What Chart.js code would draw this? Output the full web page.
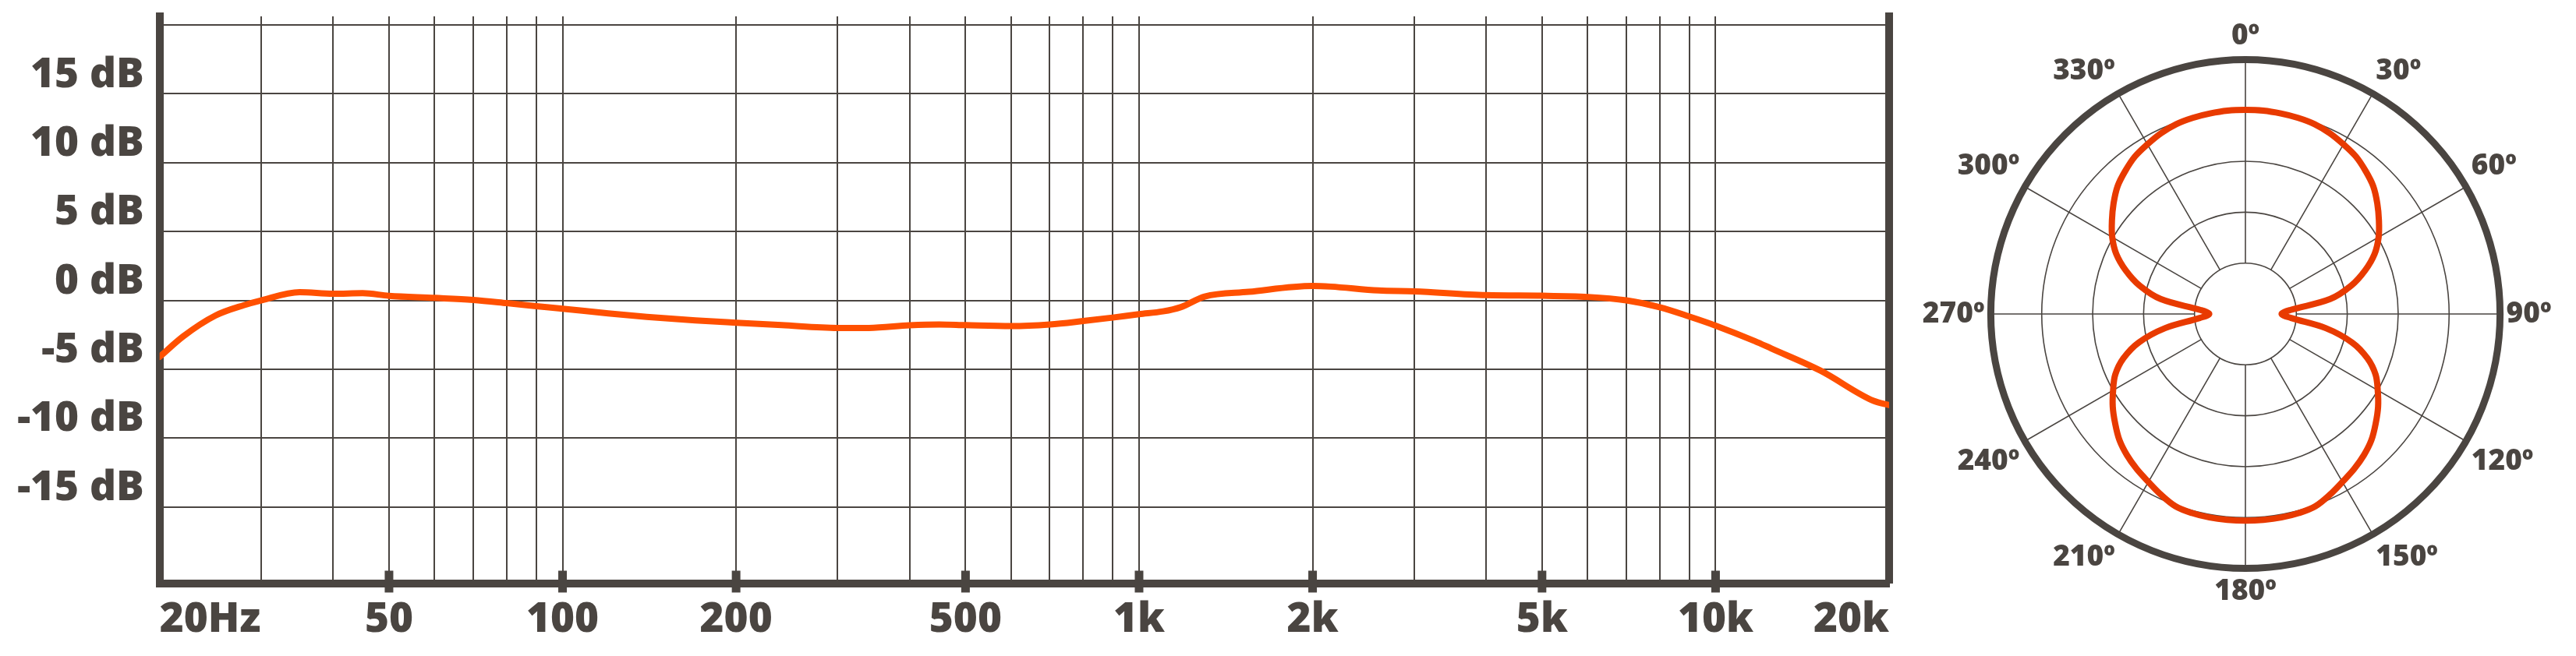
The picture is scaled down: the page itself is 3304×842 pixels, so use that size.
<!DOCTYPE html>
<html>
<head>
<meta charset="utf-8">
<script src="https://cdn.jsdelivr.net/npm/chart.js@4.4.1/dist/chart.umd.min.js"></script>
<style>
  html, body { margin: 0; padding: 0; background: #fff; }
  body { width: 3304px; height: 842px; overflow: hidden; position: relative; }
  #freq-wrap { position: absolute; left: 0; top: 0; width: 2440px; height: 842px; }
  #polar-wrap { position: absolute; left: 2380px; top: 24px; width: 1000px; height: 758px; }
</style>
</head>
<body>
<div id="freq-wrap"><canvas id="freq-chart"></canvas></div>
<div id="polar-wrap"><canvas id="polar-chart"></canvas></div>
<script>
// ── Frequency response ─────────────────────────────────────────────────────
const freqHz = [20, 22, 25, 28, 30, 35, 40, 45, 50, 60, 70, 80, 90, 100, 120, 140, 170, 200, 240, 300,
  340, 400, 450, 500, 600, 700, 800, 900, 1000, 1100, 1180, 1300, 1550, 2000, 2150, 2600, 3000, 4000,
  5000, 6000, 7000, 8000, 9000, 10000, 11700, 12500, 15200, 18800, 20000];
const responseDb = [-4.1, -2.6, -1.1, -0.35, 0.0, 0.6, 0.48, 0.52, 0.33, 0.18, 0.03, -0.2, -0.42, -0.6, -0.95, -1.2, -1.45, -1.62, -1.8, -2.0,
  -2.0, -1.81, -1.75, -1.8, -1.87, -1.75, -1.5, -1.25, -1.0, -0.8, -0.5, 0.28, 0.62, 1.05, 1.0, 0.72, 0.66, 0.38,
  0.34, 0.25, 0.0, -0.5, -1.17, -1.83, -2.96, -3.5, -5.1, -7.3, -7.6];

const freqGrid = [20, 30, 40, 50, 60, 70, 80, 90, 100, 200, 300, 400, 500, 600, 700, 800, 900,
  1000, 2000, 3000, 4000, 5000, 6000, 7000, 8000, 9000, 10000, 20000];
const freqTickValues = [20, 50, 100, 200, 500, 1000, 2000, 5000, 10000, 20000];
const freqTickLabels = ['20Hz', '50', '100', '200', '500', '1k', '2k', '5k', '10k', '20k'];
const freqMarkValues = [50, 100, 200, 500, 1000, 2000, 5000, 10000];

const dbGrid = [-20, -15, -10, -5, 0, 5, 10, 15, 20];
const dbTickValues = [-15, -10, -5, 0, 5, 10, 15];
const dbTickLabels = ['-15 dB', '-10 dB', '-5 dB', '0 dB', '5 dB', '10 dB', '15 dB'];

// ── Polar pattern ──────────────────────────────────────────────────────────
const polarAngles = [0, 5, 10, 15, 20, 25, 30, 35, 40, 45, 50, 55, 60, 65, 70, 75, 80, 85,
  90, 95, 100, 105, 110, 115, 120, 125, 130, 135, 140, 145, 150, 155, 160, 165, 170, 175,
  180, 185, 190, 195, 200, 205, 210, 215, 220, 225, 230, 235, 240, 245, 250, 255, 260, 265,
  270, 275, 280, 285, 290, 295, 300, 305, 310, 315, 320, 325, 330, 335, 340, 345, 350, 355];
const polarLevel = [4.01, 4.01, 4.00, 3.99, 3.97, 3.92, 3.85, 3.78, 3.67, 3.55, 3.38, 3.20, 3.02, 2.80, 2.50, 2.15, 1.69, 0.88,
  0.71, 0.90, 1.60, 2.17, 2.55, 2.82, 3.00, 3.18, 3.34, 3.50, 3.62, 3.72, 3.81, 3.92, 4.02, 4.05, 4.06, 4.06,
  4.06, 4.06, 4.06, 4.05, 4.02, 3.92, 3.81, 3.72, 3.62, 3.50, 3.34, 3.18, 3.00, 2.82, 2.55, 2.17, 1.60, 0.90,
  0.71, 0.88, 1.69, 2.15, 2.50, 2.80, 3.02, 3.20, 3.38, 3.55, 3.67, 3.78, 3.85, 3.92, 3.97, 3.99, 4.00, 4.01];
const polarRingMax = 5;

const INK = '#4a4541';
const FONT = "'Open Sans', sans-serif";

// thick tick marks straddling the bottom axis
const axisMarks = {
  id: 'axisMarks',
  afterDraw(chart) {
    const { ctx, chartArea, scales } = chart;
    ctx.save();
    ctx.fillStyle = INK;
    freqMarkValues.forEach(v => {
      const x = scales.x.getPixelForValue(v);
      ctx.fillRect(x - 5.5, chartArea.bottom - 16, 11, 28);
    });
    ctx.restore();
  }
};

new Chart(document.getElementById('freq-chart'), {
  type: 'line',
  data: {
    datasets: [{
      data: freqHz.map((f, i) => ({ x: f, y: responseDb[i] })),
      borderColor: '#ff5000',
      borderWidth: 8,
      borderCapStyle: 'round',
      borderJoinStyle: 'round',
      pointRadius: 0,
      tension: 0.4,
      cubicInterpolationMode: 'monotone',
      clip: 0
    }]
  },
  options: {
    animation: false,
    responsive: true,
    maintainAspectRatio: false,
    devicePixelRatio: 1,
    layout: { padding: { top: 21, right: 17, left: 0, bottom: 0 } },
    plugins: { legend: { display: false }, tooltip: { enabled: false } },
    scales: {
      x: {
        type: 'logarithmic',
        min: 20,
        max: 20000,
        afterBuildTicks: s => { s.ticks = freqGrid.map(v => ({ value: v })) },
        afterFit: s => { s.height = 93.5 },
        grid: { color: INK, lineWidth: 2, drawTicks: false },
        border: { color: INK, width: 10 },
        ticks: {
          autoSkip: false, maxRotation: 0, align: 'inner', padding: 16, color: INK,
          font: { family: FONT, size: 53, weight: '800' },
          callback: v => {
            const i = freqTickValues.indexOf(v);
            return i >= 0 ? freqTickLabels[i] : '';
          }
        }
      },
      y: {
        min: -20.54,
        max: 20.63,
        afterBuildTicks: s => { s.ticks = dbGrid.map(v => ({ value: v })) },
        afterFit: s => { s.width = 204.7; s.paddingTop = 0; s.paddingBottom = 0 },
        grid: { color: c => c.tick && c.tick.value === -20 ? 'rgba(0,0,0,0)' : INK, lineWidth: 2, drawTicks: false },
        border: { color: INK, width: 10 },
        ticks: {
          padding: 20, labelOffset: -24, color: INK,
          font: { family: FONT, size: 53, weight: '800' },
          callback: v => {
            const i = dbTickValues.indexOf(v);
            return i >= 0 ? dbTickLabels[i] : '';
          }
        }
      },
      yRight: {
        position: 'right',
        grid: { display: false, drawTicks: false },
        ticks: { display: false },
        border: { color: INK, width: 10 }
      }
    }
  },
  plugins: [axisMarks]
});

new Chart(document.getElementById('polar-chart'), {
  type: 'radar',
  data: {
    labels: polarAngles,
    datasets: [{
      data: polarLevel,
      borderColor: '#e83a00',
      borderWidth: 8,
      borderJoinStyle: 'round',
      pointRadius: 0,
      fill: false,
      tension: 0.35
    }]
  },
  options: {
    animation: false,
    responsive: true,
    maintainAspectRatio: false,
    devicePixelRatio: 1,
    plugins: { legend: { display: false }, tooltip: { enabled: false } },
    scales: {
      r: {
        min: 0,
        max: polarRingMax,
        ticks: { display: false, stepSize: 1 },
        grid: {
          circular: true,
          color: INK,
          lineWidth: c => c.tick && c.tick.value === polarRingMax ? 9 : 1.6
        },
        angleLines: {
          color: INK,
          lineWidth: c => polarAngles[c.index] % 30 === 0 ? 1.6 : 0,
          // start the spokes at the first ring, leaving the middle empty
          borderDash: c => [0, c.scale.getDistanceFromCenterForValue(1), 2000]
        },
        pointLabels: {
          padding: 8,
          color: INK,
          font: { family: FONT, size: 37, weight: '800' },
          callback: (label, i) => polarAngles[i] % 30 === 0 ? label + 'º' : ''
        }
      }
    }
  }
});
</script>
</body>
</html>
